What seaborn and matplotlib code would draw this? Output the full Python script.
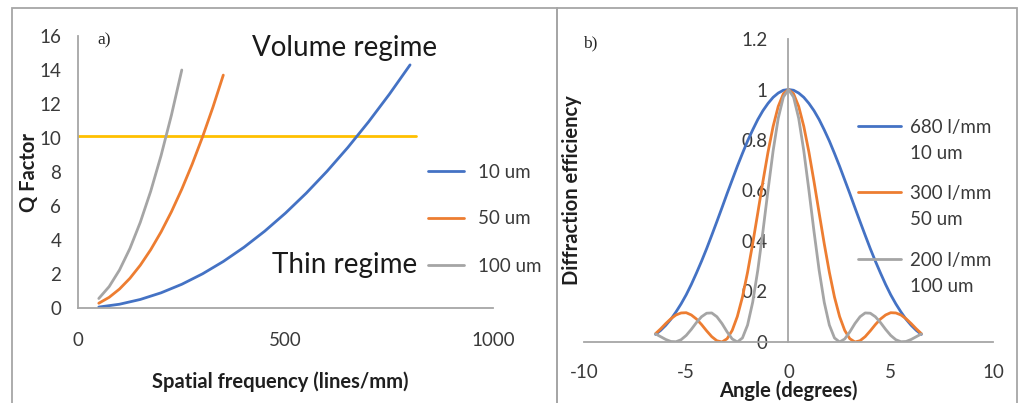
import numpy as np
import matplotlib
matplotlib.use("Agg")
import matplotlib.pyplot as plt
import seaborn as sns
from matplotlib.lines import Line2D
from matplotlib.patches import Rectangle

# ---------------- panel a) Q factor vs spatial frequency ----------------
freq_10um = [50, 100, 150, 200, 250, 300, 350, 400, 450, 500, 550, 600, 650, 700, 750, 800]
q_10um = [0.056, 0.223, 0.503, 0.894, 1.396, 2.011, 2.737, 3.575, 4.524, 5.586,
          6.759, 8.044, 9.440, 10.95, 12.57, 14.30]
freq_50um = [50, 75, 100, 125, 150, 175, 200, 225, 250, 275, 300, 325, 350]
q_50um = [0.280, 0.629, 1.118, 1.747, 2.516, 3.425, 4.473, 5.661, 6.990, 8.457, 10.065, 11.81, 13.70]
freq_100um = [50, 75, 100, 125, 150, 175, 200, 225, 250]
q_100um = [0.56, 1.26, 2.24, 3.50, 5.04, 6.86, 8.96, 11.34, 14.00]
threshold_freq = [0, 815]
threshold_q = [10.1, 10.1]
thickness_labels = ["10 um", "50 um", "100 um"]

# ---------------- panel b) diffraction efficiency vs angle ----------------
angle_deg = np.linspace(-6.5, 6.5, 53)
eff_680 = [0.030, 0.046, 0.066, 0.090, 0.119, 0.151, 0.187, 0.228, 0.273, 0.320, 0.370, 0.423, 0.477,
           0.532, 0.588, 0.642, 0.696, 0.747, 0.796, 0.840, 0.881, 0.916, 0.945, 0.969, 0.986, 0.997,
           1.000,
           0.997, 0.986, 0.969, 0.945, 0.916, 0.881, 0.840, 0.796, 0.747, 0.696, 0.642, 0.588, 0.532,
           0.477, 0.423, 0.370, 0.320, 0.273, 0.228, 0.187, 0.151, 0.119, 0.090, 0.066, 0.046, 0.030]
eff_300 = [0.033, 0.052, 0.073, 0.092, 0.107, 0.115, 0.116, 0.107, 0.091, 0.069, 0.044, 0.021, 0.005,
           0.000, 0.013, 0.046, 0.101, 0.178, 0.276, 0.389, 0.511, 0.635, 0.752, 0.854, 0.933, 0.983,
           1.000,
           0.983, 0.933, 0.854, 0.752, 0.635, 0.511, 0.389, 0.276, 0.178, 0.101, 0.046, 0.013, 0.000,
           0.005, 0.021, 0.044, 0.069, 0.091, 0.107, 0.116, 0.115, 0.107, 0.092, 0.073, 0.052, 0.033]
eff_200 = [0.032, 0.021, 0.010, 0.002, 0.001, 0.009, 0.026, 0.050, 0.077, 0.100, 0.114, 0.115, 0.100,
           0.073, 0.040, 0.012, 0.000, 0.016, 0.067, 0.157, 0.284, 0.437, 0.601, 0.757, 0.886, 0.970,
           1.000,
           0.970, 0.886, 0.757, 0.601, 0.437, 0.284, 0.157, 0.067, 0.016, 0.000, 0.012, 0.040, 0.073,
           0.100, 0.115, 0.114, 0.100, 0.077, 0.050, 0.026, 0.009, 0.001, 0.002, 0.010, 0.021, 0.032]
grating_labels = [("680 l/mm", "10 um"), ("300 l/mm", "50 um"), ("200 l/mm", "100 um")]

BLUE, ORANGE, GRAY, YELLOW = "#4472C4", "#ED7D31", "#A5A5A5", "#FFC000"
AXIS_GRAY = "#A6A6A6"
TXT = "#3a3a3a"
LAB = "#1f1f1f"

sns.set_theme(style="white")
plt.rcParams["font.family"] = ["Lato", "DejaVu Sans"]
plt.rcParams["axes.unicode_minus"] = False

fig = plt.figure(figsize=(10.2, 4.03), dpi=100)
ax_a = fig.add_axes([0.0765, 0.2357, 0.4069, 0.675])
ax_b = fig.add_axes([0.5725, 0.1514, 0.401, 0.7518])

# panel frames
for x0, x1 in [(12, 557), (557, 1017)]:
    fig.add_artist(Rectangle((x0 / 1020, -0.1), (x1 - x0) / 1020, 1.1 - 8 / 403,
                             transform=fig.transFigure, fill=False,
                             edgecolor=AXIS_GRAY, lw=1.3, clip_on=False))

lw = 2.0
sns.lineplot(x=threshold_freq, y=threshold_q, ax=ax_a, color=YELLOW, lw=lw)
sns.lineplot(x=freq_10um, y=q_10um, ax=ax_a, color=BLUE, lw=lw)
sns.lineplot(x=freq_50um, y=q_50um, ax=ax_a, color=ORANGE, lw=lw)
sns.lineplot(x=freq_100um, y=q_100um, ax=ax_a, color=GRAY, lw=lw)

sns.lineplot(x=angle_deg, y=eff_680, ax=ax_b, color=BLUE, lw=lw)
sns.lineplot(x=angle_deg, y=eff_300, ax=ax_b, color=ORANGE, lw=lw)
sns.lineplot(x=angle_deg, y=eff_200, ax=ax_b, color=GRAY, lw=lw)


def style_axes(ax):
    sns.despine(ax=ax)
    for s in ("left", "bottom"):
        ax.spines[s].set_color(AXIS_GRAY)
        ax.spines[s].set_linewidth(1.3)
    ax.tick_params(direction="out", length=6, width=1.3, color=AXIS_GRAY,
                   labelsize=13.5, labelcolor=TXT)


style_axes(ax_a)
ax_a.set_xlim(0, 1000)
ax_a.set_ylim(0, 16)
ax_a.set_xticks([0, 500, 1000])
ax_a.set_yticks(range(0, 17, 2))
ax_a.tick_params(axis="x", pad=11)
ax_a.tick_params(axis="y", pad=6)
ax_a.set_xlabel("Spatial frequency (lines/mm)", fontsize=14.5, fontweight="bold", color=LAB)
ax_a.set_ylabel("Q Factor", fontsize=14.5, fontweight="bold", color=LAB)
ax_a.xaxis.set_label_coords(0.487, -0.232)
ax_a.yaxis.set_label_coords(-0.095, 0.5)
ax_a.text(0.643, 0.956, "Volume regime", transform=ax_a.transAxes, fontsize=20,
          ha="center", va="center", color="#1a1a1a")
ax_a.text(0.643, 0.158, "Thin regime", transform=ax_a.transAxes, fontsize=20,
          ha="center", va="center", color="#1a1a1a")
ax_a.text(0.046, 0.985, "a)", transform=ax_a.transAxes, fontsize=12.5,
          ha="left", va="center", family="Liberation Serif", color="#262626")

style_axes(ax_b)
ax_b.spines["left"].set_position(("data", 0))
ax_b.set_xlim(-10, 10)
ax_b.set_ylim(0, 1.2)
ax_b.set_xticks([-10, -5, 0, 5, 10])
ax_b.set_yticks(np.arange(0, 1.21, 0.2))
ax_b.yaxis.set_major_formatter(plt.FuncFormatter(lambda v, p: f"{v:g}"))
ax_b.tick_params(axis="x", pad=10)
ax_b.tick_params(axis="y", pad=9)
ax_b.set_xlabel("Angle (degrees)", fontsize=14.5, fontweight="bold", color=LAB)
ax_b.set_ylabel("Diffraction efficiency", fontsize=14.5, fontweight="bold", color=LAB)
ax_b.xaxis.set_label_coords(0.499, -0.128)
ax_b.yaxis.set_label_coords(-0.004, 0.5)
ax_b.text(-0.002, 0.987, "b)", transform=ax_b.transAxes, fontsize=12.5,
          ha="left", va="center", family="Liberation Serif", color="#262626")

# legends
handles_a = [Line2D([], [], color=c, lw=lw) for c in (BLUE, ORANGE, GRAY)]
fig.legend(handles_a, thickness_labels, loc="center left", bbox_to_anchor=(428 / 1020, 1 - 219 / 403),
           frameon=False, fontsize=13.5, handlelength=1.9, handletextpad=0.75,
           labelspacing=1.6, borderpad=0, borderaxespad=0, labelcolor=TXT)

blank = Line2D([], [], color="none")
for c, (l1, l2), yc in zip((BLUE, ORANGE, GRAY), grating_labels, (140.5, 206.5, 273.5)):
    fig.legend([Line2D([], [], color=c, lw=lw), blank], [l1, l2], loc="center left",
               bbox_to_anchor=(858 / 1020, 1 - yc / 403),
               frameon=False, fontsize=13.5, handlelength=2.3, handletextpad=0.45,
               labelspacing=0.49, borderpad=0, borderaxespad=0, labelcolor=TXT)

fig.savefig("out.png", dpi=100)
